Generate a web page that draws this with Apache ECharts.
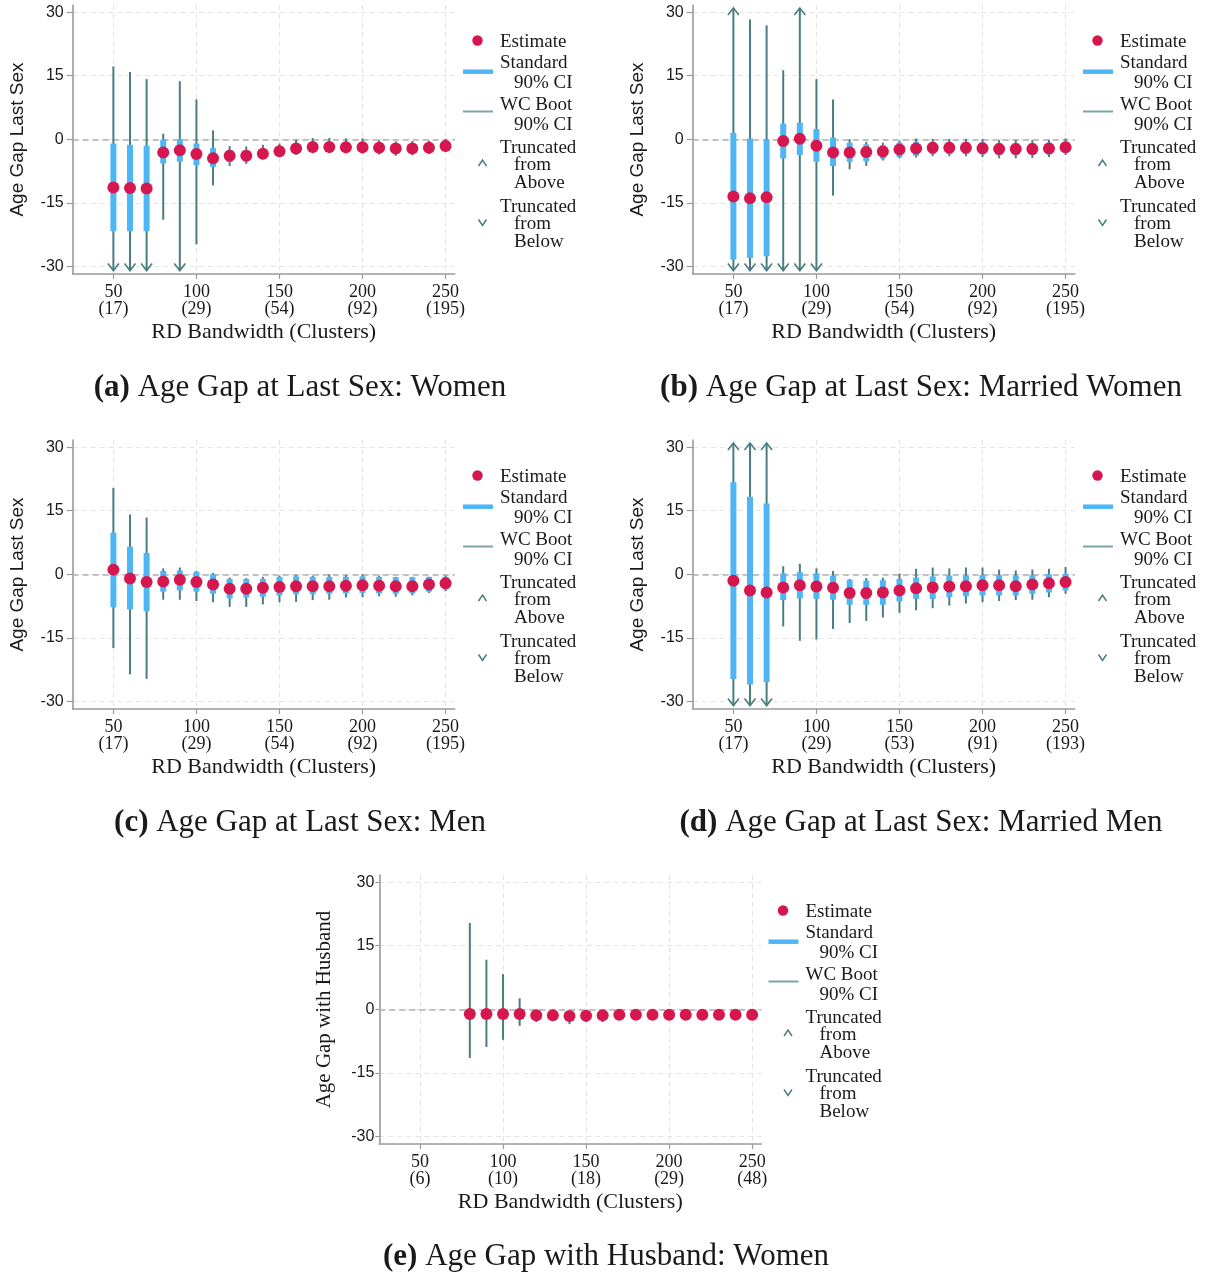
<!DOCTYPE html>
<html><head><meta charset="utf-8">
<script src="https://cdn.jsdelivr.net/npm/echarts@6/dist/echarts.min.js"></script>
<style>html,body{margin:0;padding:0;background:#fff}#c{width:1210px;height:1276px}</style>
</head><body><div id="c"></div>
<script>
// ---------------- DATA ----------------
const bandwidths = [50,60,70,80,90,100,110,120,130,140,150,160,170,180,190,200,210,220,230,240,250];
const xTickValues = [50,100,150,200,250];
const yTickValues = [-30,-15,0,15,30];

// (a) Age Gap at Last Sex: Women
const clustersA = ['17','29','54','92','195'];
const estA   = [-11.4,-11.5,-11.6,-3.1,-2.6,-3.5,-4.5,-3.9,-3.9,-3.4,-2.8,-2.2,-1.8,-1.8,-1.9,-1.9,-2.0,-2.2,-2.2,-2.0,-1.6];
const stdLoA = [-21.7,-21.7,-21.7,-5.7,-5.3,-6.1,-6.5,-5.4,-5.2,-4.5,-4.0,-3.3,-2.9,-2.9,-3.0,-3.0,-3.1,-3.3,-3.3,-3.0,-2.6];
const stdHiA = [-1.0,-1.3,-1.5,-0.1,0.0,-1.0,-2.1,-2.5,-2.6,-2.3,-1.7,-1.2,-0.8,-0.8,-0.9,-0.9,-1.0,-1.2,-1.2,-1.0,-0.7];
const wcLoA  = [-31,-31,-31,-19.0,-31,-24.8,-10.9,-6.3,-5.8,-4.7,-4.2,-3.7,-3.3,-3.3,-3.3,-3.4,-3.6,-3.9,-3.8,-3.5,-3.0];
const wcHiA  = [17.2,15.9,14.2,1.3,13.7,9.4,2.1,-1.6,-1.7,-1.3,-1.0,-0.1,0.3,0.3,0.2,0.2,-0.2,-0.5,-0.4,-0.3,0.1];
const truncBelowA = [50,60,70,90];
const truncAboveA = [];

// (b) Age Gap at Last Sex: Married Women
const clustersB = ['17','29','54','92','195'];
const estB   = [-13.5,-13.9,-13.7,-0.4,0.1,-1.5,-3.1,-3.1,-3.0,-2.9,-2.4,-2.2,-2.0,-2.0,-2.0,-2.1,-2.3,-2.3,-2.3,-2.2,-1.9];
const stdLoB = [-28.4,-28.0,-27.6,-4.5,-3.7,-5.3,-6.3,-5.3,-5.2,-4.6,-4.2,-3.9,-3.5,-3.5,-3.5,-3.6,-3.8,-3.8,-3.7,-3.6,-3.2];
const stdHiB = [1.5,0.2,-0.1,3.7,3.9,2.4,0.4,-0.8,-1.2,-1.4,-0.8,-0.6,-0.6,-0.6,-0.6,-0.7,-0.9,-0.9,-0.9,-0.8,-0.6];
const wcLoB  = [-31,-31,-31,-31,-31,-31,-13.3,-7.1,-6.3,-5.0,-4.5,-4.3,-4.0,-4.0,-4.0,-4.2,-4.5,-4.5,-4.4,-4.2,-3.7];
const wcHiB  = [31,28.3,26.9,16.3,31,14.2,9.4,0.0,-0.6,-0.8,-0.3,0.2,0.1,0.1,0.1,0.1,-0.2,-0.2,-0.2,-0.1,0.2];
const truncBelowB = [50,60,70,80,90,100];
const truncAboveB = [50,90];

// (c) Age Gap at Last Sex: Men
const clustersC = ['17','29','54','92','195'];
const estC   = [1.1,-1.0,-1.8,-1.7,-1.3,-1.8,-2.4,-3.4,-3.4,-3.2,-3.0,-2.8,-2.8,-2.8,-2.7,-2.6,-2.7,-2.8,-2.8,-2.4,-2.1];
const stdLoC = [-7.8,-8.3,-8.7,-4.1,-3.8,-4.1,-4.6,-5.7,-5.5,-5.3,-5.0,-4.7,-4.7,-4.6,-4.5,-4.4,-4.5,-4.6,-4.5,-4.1,-3.6];
const stdHiC = [9.8,6.5,5.0,0.8,0.9,0.6,0.0,-1.1,-1.1,-1.1,-0.6,-0.5,-0.6,-0.6,-0.6,-0.5,-0.6,-0.7,-0.7,-0.6,-0.6];
const wcLoC  = [-17.4,-23.6,-24.7,-6.0,-6.0,-6.3,-6.6,-7.7,-7.7,-7.1,-6.6,-6.5,-6.1,-6.0,-5.5,-5.4,-5.2,-5.3,-5.0,-4.4,-4.0];
const wcHiC  = [20.4,14.1,13.4,1.4,1.6,0.8,0.3,-0.8,-0.9,-0.6,-0.3,-0.2,-0.3,0.0,-0.2,0.0,-0.3,-0.6,-0.6,-0.6,-0.3];
const truncBelowC = [];
const truncAboveC = [];

// (d) Age Gap at Last Sex: Married Men
const clustersD = ['17','29','53','91','193'];
const estD   = [-1.5,-3.8,-4.3,-3.1,-2.6,-2.9,-3.2,-4.4,-4.4,-4.3,-3.8,-3.3,-3.1,-2.9,-2.8,-2.6,-2.6,-2.8,-2.4,-2.1,-1.8];
const stdLoD = [-24.7,-26.0,-25.4,-6.1,-5.7,-5.8,-6.0,-7.2,-7.2,-7.2,-6.4,-5.8,-5.8,-5.4,-5.2,-5.0,-5.0,-5.0,-4.6,-4.3,-3.8];
const stdHiD = [21.7,18.3,16.7,0.2,0.5,0.2,-0.3,-1.3,-1.5,-1.4,-1.1,-0.8,-0.5,-0.3,-0.3,-0.2,-0.2,-0.4,-0.2,0.0,0.1];
const wcLoD  = [-31,-31,-31,-12.3,-15.7,-15.4,-12.9,-11.5,-11.0,-10.2,-9.1,-8.5,-8.0,-7.4,-6.9,-6.6,-6.3,-6.1,-6.0,-5.4,-4.6];
const wcHiD  = [31,31,31,1.9,2.5,1.4,0.8,-1.1,-0.9,-0.8,0.2,1.3,1.6,1.4,1.6,1.6,1.1,0.9,1.1,1.3,1.7];
const truncBelowD = [50,60,70];
const truncAboveD = [50,60,70];

// (e) Age Gap with Husband: Women
const clustersE = ['6','10','18','29','48'];
const estE   = [null,null,null,-1.1,-1.1,-1.1,-1.1,-1.4,-1.4,-1.6,-1.5,-1.4,-1.3,-1.3,-1.3,-1.3,-1.3,-1.3,-1.3,-1.3,-1.3];
const stdLoE = [null,null,null,null,null,null,null,null,null,null,null,null,null,null,null,null,null,null,null,null,null];
const stdHiE = [null,null,null,null,null,null,null,null,null,null,null,null,null,null,null,null,null,null,null,null,null];
const wcLoE  = [null,null,null,-11.5,-8.9,-7.2,-3.9,-3.0,-2.7,-3.5,-3.0,-3.0,-2.3,-2.3,-2.3,-2.3,-2.3,-2.3,-2.3,-2.3,-2.3];
const wcHiE  = [null,null,null,20.4,11.7,8.3,2.6,-0.5,-0.4,-0.8,-0.4,-0.4,-0.3,-0.3,-0.3,-0.3,-0.3,-0.3,-0.3,-0.3,-0.3];
const truncBelowE = [];
const truncAboveE = [];

const legendLabels = [['Estimate'],['Standard','90% CI'],['WC Boot','90% CI'],['Truncated','from','Above'],['Truncated','from','Below']];

// ---------------- STYLE / LAYOUT ----------------
const C_DOT = '#d6174f', C_STD = '#4fb6f5', C_WC = '#4a7c80', C_TXT = '#1a1a1a', C_AX = '#9a9a9a';
const SERIF = 'Liberation Serif', SANS = 'Liberation Sans';

const panels = [
  {cap:'(a)', title:'Age Gap at Last Sex: Women', left:72.7, top:5, est:estA, sLo:stdLoA, sHi:stdHiA, wLo:wcLoA, wHi:wcHiA, tb:truncBelowA, ta:truncAboveA, cl:clustersA, yName:'Age Gap Last Sex', ySerif:false, capX:300, capY:388, lx:0, ly:0},
  {cap:'(b)', title:'Age Gap at Last Sex: Married Women', left:692.7, top:5, est:estB, sLo:stdLoB, sHi:stdHiB, wLo:wcLoB, wHi:wcHiB, tb:truncBelowB, ta:truncAboveB, cl:clustersB, yName:'Age Gap Last Sex', ySerif:false, capX:921, capY:388, lx:620, ly:0},
  {cap:'(c)', title:'Age Gap at Last Sex: Men', left:72.7, top:440, est:estC, sLo:stdLoC, sHi:stdHiC, wLo:wcLoC, wHi:wcHiC, tb:truncBelowC, ta:truncAboveC, cl:clustersC, yName:'Age Gap Last Sex', ySerif:false, capX:300, capY:823, lx:0, ly:435},
  {cap:'(d)', title:'Age Gap at Last Sex: Married Men', left:692.7, top:440, est:estD, sLo:stdLoD, sHi:stdHiD, wLo:wcLoD, wHi:wcHiD, tb:truncBelowD, ta:truncAboveD, cl:clustersD, yName:'Age Gap Last Sex', ySerif:false, capX:921, capY:823, lx:620, ly:435},
  {cap:'(e)', title:'Age Gap with Husband: Women', left:379.3, top:875, est:estE, sLo:stdLoE, sHi:stdHiE, wLo:wcLoE, wHi:wcHiE, tb:truncBelowE, ta:truncAboveE, cl:clustersE, yName:'Age Gap with Husband', ySerif:true, capX:606, capY:1257, lx:305.5, ly:870}
];

function ciRender(color, width, arrows) {
  return function (params, api) {
    const x = api.value(0);
    const p1 = api.coord([x, api.value(1)]);
    const p2 = api.coord([x, api.value(2)]);
    const children = [{type:'line', shape:{x1:p1[0], y1:p1[1], x2:p2[0], y2:p2[1]},
      style:{stroke:color, lineWidth:width, lineCap:'butt'}}];
    if (arrows) {
      if (api.value(3)) children.push({type:'polyline',
        shape:{points:[[p1[0]-5.5,p1[1]-7],[p1[0],p1[1]],[p1[0]+5.5,p1[1]-7]]},
        style:{stroke:color, lineWidth:1.6, fill:'none'}});
      if (api.value(4)) children.push({type:'polyline',
        shape:{points:[[p2[0]-5.5,p2[1]+7],[p2[0],p2[1]],[p2[0]+5.5,p2[1]+7]]},
        style:{stroke:color, lineWidth:1.6, fill:'none'}});
    }
    return {type:'group', children};
  };
}

const grids = [], xAxes = [], yAxes = [], series = [], graphics = [];

panels.forEach((p, i) => {
  const isE = i === 4;
  grids.push({left:p.left, top:p.top, width:382, height:269, containLabel:false, outerBoundsMode:'none'});
  xAxes.push({
    gridIndex:i, type:'value', min:25.5, max:255.5,
    axisLine:{show:true, onZero:false, lineStyle:{color:C_AX, width:1.6}},
    axisTick:{show:true, customValues:xTickValues, length:5, lineStyle:{color:C_AX, width:1.2}},
    axisLabel:{customValues:xTickValues, formatter:(v) => v + '\n(' + p.cl[xTickValues.indexOf(v)] + ')',
      fontFamily:SERIF, fontSize:18, lineHeight:17, color:C_TXT, margin:10},
    splitLine:{show:true, lineStyle:{color:'#e4e4e4', width:1, type:[5,4]}},
    name:'RD Bandwidth (Clusters)', nameLocation:'middle', nameGap:47,
    nameTextStyle:{fontFamily:SERIF, fontSize:22, color:C_TXT}
  });
  yAxes.push({
    gridIndex:i, type:'value', min:-31.8, max:31.7,
    axisLine:{show:true, onZero:false, lineStyle:{color:C_AX, width:1.6}},
    axisTick:{show:true, customValues:yTickValues, length:isE ? 4 : 6, lineStyle:{color:C_AX, width:1.2}},
    axisLabel:{customValues:yTickValues, fontFamily:SANS, fontSize:16, color:C_TXT, margin:isE ? 5 : 9,
      padding:[5,0,0,0]},
    splitLine:{show:true, lineStyle:{color:'#e4e4e4', width:1, type:[5,4]}},
    name:p.yName, nameLocation:'middle', nameGap:isE ? 44 : 45,
    nameTextStyle:{fontFamily:p.ySerif ? SERIF : SANS, fontSize:p.ySerif ? 21 : 19, color:C_TXT}
  });

  const wcData = [], stdData = [], estData = [];
  bandwidths.forEach((b, j) => {
    if (p.wLo[j] != null) wcData.push([b, p.wLo[j], p.wHi[j], p.tb.includes(b) ? 1 : 0, p.ta.includes(b) ? 1 : 0]);
    if (p.sLo[j] != null) stdData.push([b, p.sLo[j], p.sHi[j]]);
    if (p.est[j] != null) estData.push([b, p.est[j]]);
  });

  series.push({
    type:'custom', xAxisIndex:i, yAxisIndex:i, z:2, clip:false,
    renderItem:ciRender(C_WC, 2, true), encode:{x:0, y:[1,2]}, data:wcData,
    markLine:{silent:true, symbol:'none', label:{show:false}, z:1,
      lineStyle:{color:'#b0b0b0', width:1.6, type:[6,4]}, data:[{yAxis:0}]}
  });
  series.push({
    type:'custom', xAxisIndex:i, yAxisIndex:i, z:3, clip:false,
    renderItem:ciRender(C_STD, 6, false), encode:{x:0, y:[1,2]}, data:stdData
  });
  series.push({
    type:'scatter', xAxisIndex:i, yAxisIndex:i, z:4, symbol:'circle', symbolSize:12,
    itemStyle:{color:C_DOT, opacity:1}, data:estData
  });

  // caption
  graphics.push({type:'text', x:p.capX, y:p.capY, style:{
    text:'{b|' + p.cap + '} ' + p.title,
    fontFamily:SERIF, fontSize:31, fill:C_TXT, align:'center', verticalAlign:'middle',
    rich:{b:{fontFamily:SERIF, fontSize:31, fontWeight:'bold', fill:C_TXT}}
  }});

  // legend (graphic)
  const ox = p.lx, oy = p.ly;
  const txt = (s, x, y) => ({type:'text', x:x + ox, y:y + oy, style:{text:s, fontFamily:SERIF, fontSize:19, fill:C_TXT, align:'left', verticalAlign:'middle'}});
  graphics.push({type:'circle', shape:{cx:477.5 + ox, cy:40.5 + oy, r:5.2}, style:{fill:C_DOT}});
  graphics.push(txt(legendLabels[0][0], 500, 42));
  graphics.push({type:'line', shape:{x1:463 + ox, y1:71.7 + oy, x2:493 + ox, y2:71.7 + oy}, style:{stroke:C_STD, lineWidth:4.5}});
  graphics.push(txt(legendLabels[1][0], 500, 63.5));
  graphics.push(txt(legendLabels[1][1], 514, 83));
  graphics.push({type:'line', shape:{x1:463 + ox, y1:111.5 + oy, x2:493 + ox, y2:111.5 + oy}, style:{stroke:'#7fa4a7', lineWidth:2}});
  graphics.push(txt(legendLabels[2][0], 500, 105));
  graphics.push(txt(legendLabels[2][1], 514, 125));
  graphics.push({type:'polyline', shape:{points:[[478.5 + ox,166 + oy],[482.5 + ox,160 + oy],[486.5 + ox,166 + oy]]}, style:{stroke:C_WC, lineWidth:1.5, fill:'none'}});
  graphics.push(txt(legendLabels[3][0], 500, 148));
  graphics.push(txt(legendLabels[3][1], 514, 165.5));
  graphics.push(txt(legendLabels[3][2], 514, 183));
  graphics.push({type:'polyline', shape:{points:[[478.5 + ox,219.5 + oy],[482.5 + ox,225.5 + oy],[486.5 + ox,219.5 + oy]]}, style:{stroke:C_WC, lineWidth:1.5, fill:'none'}});
  graphics.push(txt(legendLabels[4][0], 500, 207));
  graphics.push(txt(legendLabels[4][1], 514, 224));
  graphics.push(txt(legendLabels[4][2], 514, 242));
});

const chart = echarts.init(document.getElementById('c'), null, {renderer:'canvas'});
chart.setOption({
  animation:false,
  backgroundColor:'#ffffff',
  grid:grids, xAxis:xAxes, yAxis:yAxes, series:series, graphic:graphics
});
</script>
</body></html>
